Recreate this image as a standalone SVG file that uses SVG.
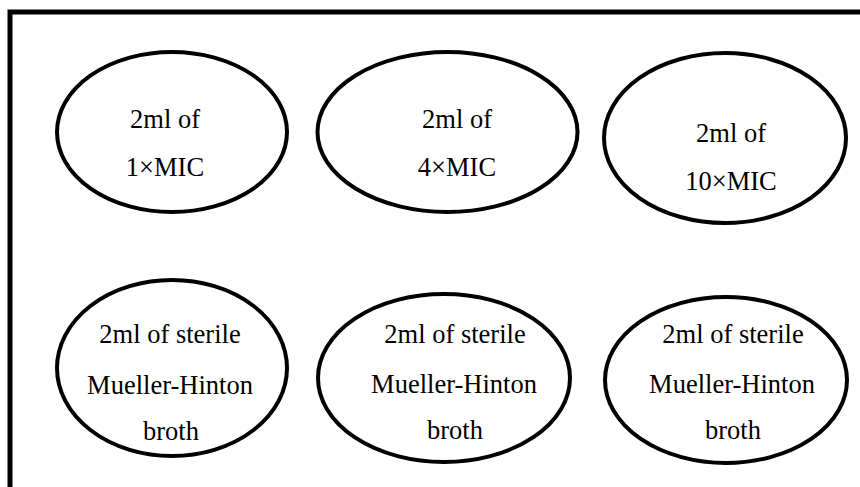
<svg xmlns="http://www.w3.org/2000/svg" width="860" height="487" viewBox="0 0 860 487">
<style>
.frame{fill:none;stroke:#000;stroke-width:5}
.node ellipse{fill:#fff;stroke:#000;stroke-width:4}
.node text{font-family:'Liberation Serif','DejaVu Serif',serif;font-size:26.5px;fill:#000;text-anchor:middle}
</style>
<rect width="860" height="487" fill="#fff"/>
<path class="frame" d="M10 490 V12 H862"/>
<g id="connectors"></g>
<g id="n1" class="node">
<ellipse cx="172" cy="132" rx="115" ry="80"/>
<text x="165" y="128">2ml of</text>
<text x="165" y="176">1×MIC</text>
</g>
<g id="n2" class="node">
<ellipse cx="447.5" cy="132" rx="130" ry="80"/>
<text x="457" y="128">2ml of</text>
<text x="457" y="176">4×MIC</text>
</g>
<g id="n3" class="node">
<ellipse cx="725" cy="138" rx="121" ry="85"/>
<text x="731" y="142">2ml of</text>
<text x="731" y="190">10×MIC</text>
</g>
<g id="n4" class="node">
<ellipse cx="172" cy="368" rx="115" ry="88"/>
<text x="170" y="343">2ml of sterile</text>
<text x="170" y="394">Mueller-Hinton</text>
<text x="171" y="440">broth</text>
</g>
<g id="n5" class="node">
<ellipse cx="444" cy="378" rx="126" ry="84"/>
<text x="455" y="343">2ml of sterile</text>
<text x="454" y="393">Mueller-Hinton</text>
<text x="455" y="439">broth</text>
</g>
<g id="n6" class="node">
<ellipse cx="726" cy="380" rx="121" ry="83"/>
<text x="733" y="343">2ml of sterile</text>
<text x="732" y="393">Mueller-Hinton</text>
<text x="733" y="439">broth</text>
</g>
</svg>
